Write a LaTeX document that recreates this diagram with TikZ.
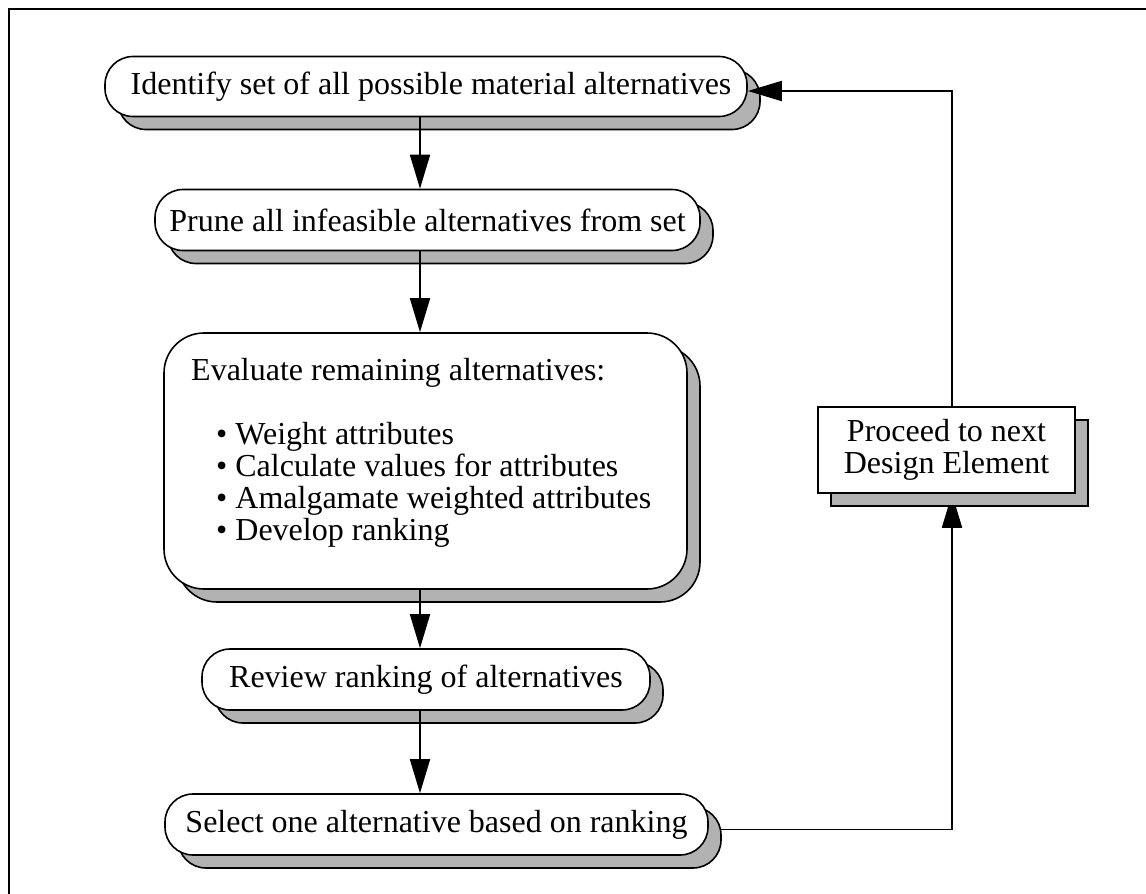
\documentclass[tikz,border=0pt]{standalone}
\usepackage{fontspec}
\setmainfont{Liberation Serif}
\usetikzlibrary{arrows.meta,shadows,calc,backgrounds}
\begin{document}
\begin{tikzpicture}[x=1pt,y=-1pt,
  shd/.style={general shadow={fill=gray!60,draw=black,line width=1.6pt,shadow xshift=13pt,shadow yshift=-13pt}},
  pill/.style={draw,line width=1.6pt,fill=white,rounded corners=28pt,shd,inner sep=0pt,font=\fontsize{32}{34}\selectfont},
  rbox/.style={draw,line width=1.6pt,fill=white,rounded corners=40pt,shd,inner sep=0pt},
  sbox/.style={draw,line width=1.6pt,fill=white,shd,inner sep=0pt,align=center,font=\fontsize{32}{32}\selectfont},
  txt/.style={inner sep=0pt,align=left,font=\fontsize{32}{31.7}\selectfont},
  conn/.style={line width=1.8pt,-{Triangle[length=34pt,width=20pt]}},
  line/.style={line width=1.8pt}]
\useasboundingbox (0,0) rectangle (1146,894);
\draw[line width=2pt] (9,894) -- (9,9) -- (1146,9);

\node[pill,minimum width=642pt,minimum height=60pt] (n1) at (426,86.5) {\hspace*{10pt}Identify set of all possible material alternatives};
\node[pill,minimum width=545pt,minimum height=61pt] (n2) at (427.5,220) {Prune all infeasible alternatives from set};
\node[rbox,minimum width=523pt,minimum height=256pt] (n3) at (425.5,461) {};
\node[txt,anchor=base west] (n3t) at (191,380) {Evaluate remaining alternatives:};
\node[txt,anchor=base west] (n3b) at (216,540) {\textbullet\ Weight attributes\\
\textbullet\ Calculate values for attributes\\
\textbullet\ Amalgamate weighted attributes\\
\textbullet\ Develop ranking};
\node[pill,minimum width=448pt,minimum height=61pt] (n4) at (426,679.5) {Review ranking of alternatives};
\node[pill,minimum width=543pt,minimum height=61pt] (n5) at (436.5,824.5) {Select one alternative based on ranking};
\node[sbox,minimum width=257pt,minimum height=86pt] (n6) at (946.5,450) {Proceed to next\\Design Element};

\coordinate (lx) at (952,0);
\coordinate (mx) at (420,0);

\draw[conn] (n1.south -| mx) -- (n2.north -| mx);
\draw[conn] (n2.south -| mx) -- (n3.north -| mx);
\draw[conn] (n3.south -| mx) -- (n4.north -| mx);
\draw[conn] (n4.south -| mx) -- (n5.north -| mx);
\begin{pgfonlayer}{background}
\draw[conn] ($(n5.east)+(0,5)$) -| (n6.south -| lx);
\end{pgfonlayer}
\draw[conn] (n6.north -| lx) |- ($(n1.east)+(0,4.5)$);
\end{tikzpicture}
\end{document}
